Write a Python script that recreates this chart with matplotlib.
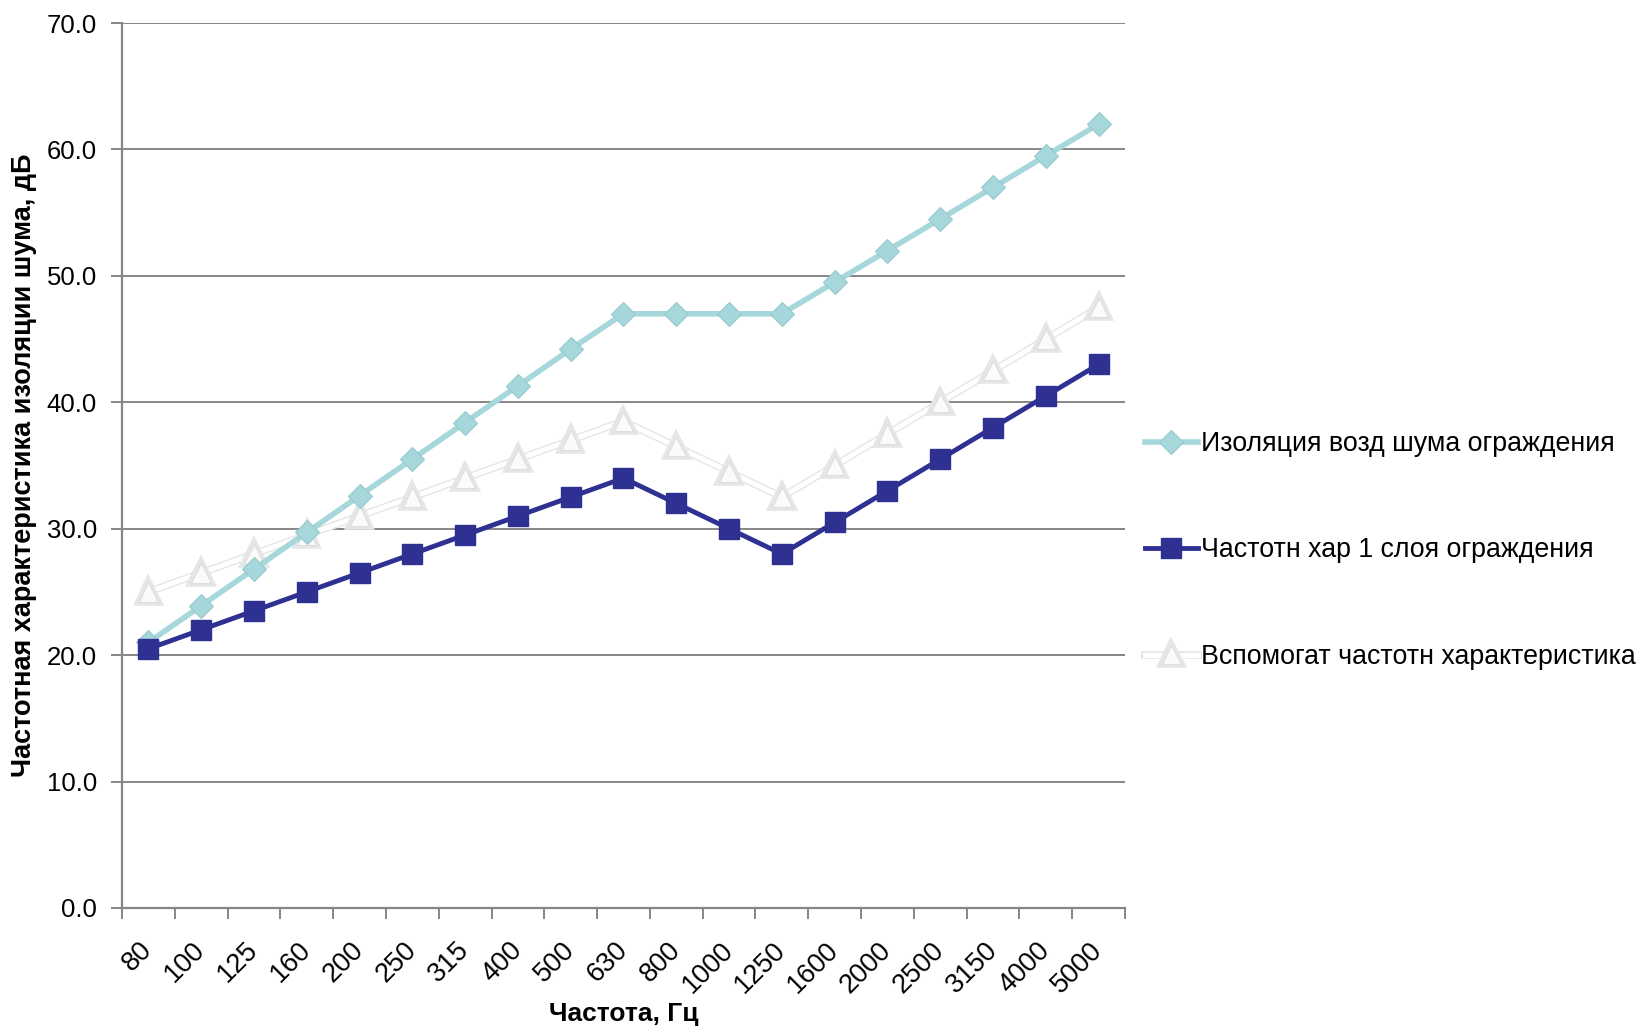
import matplotlib.pyplot as plt
import matplotlib.patheffects as pe
import matplotlib.transforms as mtransforms
import numpy as np

plt.rcParams['font.family'] = ['Liberation Sans', 'DejaVu Sans']

# Third-octave band centre frequencies, Hz
freqs = ['80', '100', '125', '160', '200', '250', '315', '400', '500', '630',
         '800', '1000', '1250', '1600', '2000', '2500', '3150', '4000', '5000']

# Airborne sound insulation of the partition, dB
insulation = [21.0, 23.9, 26.8, 29.7, 32.6, 35.5, 38.4, 41.3, 44.2, 47.0,
              47.0, 47.0, 47.0, 49.5, 52.0, 54.5, 57.0, 59.5, 62.0]
# Frequency response of a single layer, dB
single_layer = [20.5, 22.0, 23.5, 25.0, 26.5, 28.0, 29.5, 31.0, 32.5, 34.0,
                32.0, 30.0, 28.0, 30.5, 33.0, 35.5, 38.0, 40.5, 43.0]
# Auxiliary frequency response, dB
auxiliary = [25.0, 26.5, 28.0, 29.5, 31.0, 32.5, 34.0, 35.5, 37.0, 38.5,
             36.5, 34.5, 32.5, 35.0, 37.5, 40.0, 42.5, 45.0, 47.5]

labels = ['Изоляция возд шума ограждения',
          'Частотн хар 1 слоя ограждения',
          'Вспомогат частотн характеристика']

fig = plt.figure(figsize=(16.41, 10.27), dpi=100)
ax = fig.add_axes([0.0743, 0.1159, 0.6113, 0.8617])

x = np.arange(len(freqs))
grey = '#868686'

ax.plot(x, insulation, color='#A5D7DB', lw=4, marker='D', ms=12,
        mfc='#A5D7DB', mec='#96CACF', mew=0.8, label=labels[0], zorder=3)
ax.plot(x, single_layer, color='#2E3192', lw=3.5, marker='s', ms=15,
        mfc='#2E3192', mec='#2E3192', label=labels[1], zorder=4)
ax.plot(x, auxiliary, color='white', lw=3.5, marker='^', ms=14,
        mfc='#FBFBFB', mec='#DEDEDE', mew=0.8, label=labels[2], zorder=2,
        path_effects=[pe.Stroke(linewidth=5.5, foreground='#E6E6E6'), pe.Normal()])

ax.set_xlim(-0.5, len(freqs) - 0.5)
ax.set_ylim(0, 70)
ax.set_yticks(np.arange(0, 71, 10))
ax.set_yticklabels([f'{v:.1f}' for v in np.arange(0, 71, 10)])
ax.yaxis.grid(True, color=grey, lw=1.4)
ax.set_axisbelow(True)

# category ticks sit between the bands, labels under each band
ax.set_xticks(np.arange(-0.5, len(freqs)), minor=False)
ax.set_xticklabels([])
ax.set_xticks(x, minor=True)
ax.set_xticklabels(freqs, minor=True, rotation=45, ha='right', va='top',
                   rotation_mode='anchor')
ax.tick_params(axis='x', which='minor', length=0, pad=21, labelsize=19.5)
ax.tick_params(axis='x', which='major', length=8, width=1.4, color=grey)
ax.tick_params(axis='y', length=8, width=1.4, color=grey, labelsize=18.5, pad=10)
shift = mtransforms.ScaledTranslation(-0.09, 0, fig.dpi_scale_trans)
for lab in ax.get_xticklabels(minor=True):
    lab.set_transform(lab.get_transform() + shift)

for side in ['top', 'right']:
    ax.spines[side].set_visible(False)
for side in ['left', 'bottom']:
    ax.spines[side].set_color(grey)
    ax.spines[side].set_linewidth(1.6)

ax.set_xlabel('Частота, Гц', fontsize=19, fontweight='bold')
ax.xaxis.set_label_coords(0.5, -0.106)
ax.set_ylabel('Частотная характеристика изоляции шума, дБ', fontsize=19.5,
              fontweight='bold')
ax.yaxis.set_label_coords(-0.085, 0.5)

ax.legend(loc='center left', bbox_to_anchor=(0.691, 0.464),
          bbox_transform=fig.transFigure, frameon=False, fontsize=19.3,
          handlelength=2.0, handletextpad=0.1, labelspacing=3.0,
          borderaxespad=0)

fig.savefig('out.png', dpi=100, facecolor='white')
